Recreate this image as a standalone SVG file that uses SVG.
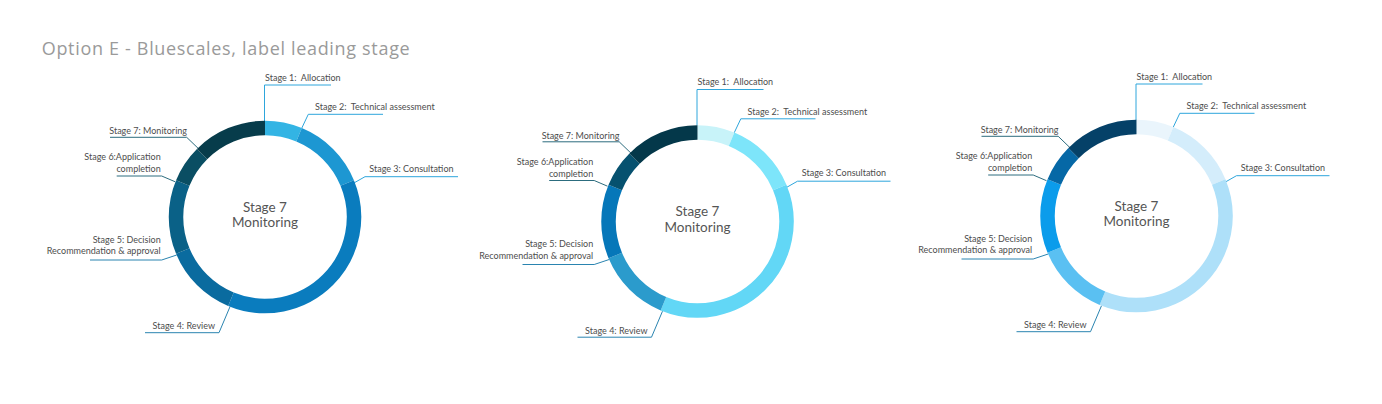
<svg xmlns="http://www.w3.org/2000/svg" width="1382" height="404" viewBox="0 0 1382 404">
<style>
.bg{fill:#ffffff}
.title{font-family:"Open Sans","Liberation Sans",sans-serif;font-size:18px;fill:#9a9a9a}
.lbl{font-family:Lato,"Liberation Sans",sans-serif;font-size:9px;fill:#4d4d4d;white-space:pre}
.end{text-anchor:end}
.ctr{font-family:Lato,"Liberation Sans",sans-serif;font-size:13.5px;fill:#555555;text-anchor:middle}
.seg{fill:none;stroke-width:14.5;stroke-linecap:butt}
.ld{fill:none;stroke-width:1}
.lb{stroke:#2ea6dc}
.lm{stroke:#2a84b0}
.lt{stroke:#2c6c7e}
.r1 .s1{stroke:#33b4e4}.r1 .s2{stroke:#1d97d2}.r1 .s3{stroke:#0a7cbe}.r1 .s4{stroke:#0a6b9f}.r1 .s5{stroke:#0a6187}.r1 .s6{stroke:#0a4e63}.r1 .s7{stroke:#073c4b}
.r2 .s1{stroke:#c8f3f9}.r2 .s2{stroke:#7de5fa}.r2 .s3{stroke:#62d7f6}.r2 .s4{stroke:#2b9bcc}.r2 .s5{stroke:#0677b9}.r2 .s6{stroke:#06516f}.r2 .s7{stroke:#04384a}
.r3 .s1{stroke:#eaf5fc}.r3 .s2{stroke:#d4edfb}.r3 .s3{stroke:#aee0f9}.r3 .s4{stroke:#5ac0f2}.r3 .s5{stroke:#0b9ceb}.r3 .s6{stroke:#0668a6}.r3 .s7{stroke:#054168}
</style>
<rect class="bg" x="0" y="0" width="1382" height="404"/>
<text id="title" class="title" x="41.7" y="55" textLength="368">Option E - Bluescales, label leading stage</text>

<g id="diagram1" class="r1">
  <g id="d1-connectors">
    <path class="ld lb" d="M264.5,121 V85 H331"/>
    <path class="ld lb" d="M301.7,128.3 L308.3,114.3 H383"/>
    <path class="ld lb" d="M353,183.5 L365,176.7 H458"/>
    <path class="ld lm" d="M230,306.7 L219,332.7 H145"/>
    <path class="ld lm" d="M176.7,255 L161.7,260 H90"/>
    <path class="ld lt" d="M175,181.7 L161.7,176 H116.7"/>
    <path class="ld lt" d="M203,153 L186.7,137.3 H110"/>
  </g>
  <g id="d1-stage1"><path class="seg s1" d="M265,128 A89,89 0 0 1 299.059,134.775"/><text class="lbl" x="265" y="80.5">Stage 1:  Allocation</text></g>
  <g id="d1-stage2"><path class="seg s2" d="M299.059,134.775 A89,89 0 0 1 347.225,182.941"/><text class="lbl" x="315" y="110">Stage 2:  Technical assessment</text></g>
  <g id="d1-stage3"><path class="seg s3" d="M347.225,182.941 A89,89 0 0 1 230.941,299.225"/><text class="lbl" x="369.3" y="171.6">Stage 3: Consultation</text></g>
  <g id="d1-stage4"><path class="seg s4" d="M230.941,299.225 A89,89 0 0 1 182.775,251.059"/><text class="lbl end" x="215" y="329.3">Stage 4: Review</text></g>
  <g id="d1-stage5"><path class="seg s5" d="M182.775,251.059 A89,89 0 0 1 182.775,182.941"/><text class="lbl end" x="160.7" y="242.7">Stage 5: Decision</text><text class="lbl end" x="160.7" y="254.2">Recommendation &amp; approval</text></g>
  <g id="d1-stage6"><path class="seg s6" d="M182.775,182.941 A89,89 0 0 1 202.067,154.067"/><text class="lbl end" x="160.7" y="160.2">Stage 6:Application</text><text class="lbl end" x="160.7" y="172.2">completion</text></g>
  <g id="d1-stage7"><path class="seg s7" d="M202.067,154.067 A89,89 0 0 1 265,128"/><text class="lbl end" x="187" y="134">Stage 7: Monitoring</text></g>
  <g id="d1-center"><text class="ctr" x="265" y="211.6">Stage 7</text><text class="ctr" x="265" y="227.3">Monitoring</text></g>
</g>

<g id="diagram2" class="r2" transform="translate(432.5,4.5)">
  <g id="d2-connectors">
    <path class="ld lb" d="M264.5,121 V85 H331"/>
    <path class="ld lb" d="M301.7,128.3 L308.3,114.3 H383"/>
    <path class="ld lb" d="M353,183.5 L365,176.7 H458"/>
    <path class="ld lm" d="M230,306.7 L219,332.7 H145"/>
    <path class="ld lm" d="M176.7,255 L161.7,260 H90"/>
    <path class="ld lt" d="M175,181.7 L161.7,176 H116.7"/>
    <path class="ld lt" d="M203,153 L186.7,137.3 H110"/>
  </g>
  <g id="d2-stage1"><path class="seg s1" d="M265,128 A89,89 0 0 1 299.059,134.775"/><text class="lbl" x="265" y="80.5">Stage 1:  Allocation</text></g>
  <g id="d2-stage2"><path class="seg s2" d="M299.059,134.775 A89,89 0 0 1 347.225,182.941"/><text class="lbl" x="315" y="110">Stage 2:  Technical assessment</text></g>
  <g id="d2-stage3"><path class="seg s3" d="M347.225,182.941 A89,89 0 0 1 230.941,299.225"/><text class="lbl" x="369.3" y="171.6">Stage 3: Consultation</text></g>
  <g id="d2-stage4"><path class="seg s4" d="M230.941,299.225 A89,89 0 0 1 182.775,251.059"/><text class="lbl end" x="215" y="329.3">Stage 4: Review</text></g>
  <g id="d2-stage5"><path class="seg s5" d="M182.775,251.059 A89,89 0 0 1 182.775,182.941"/><text class="lbl end" x="160.7" y="242.7">Stage 5: Decision</text><text class="lbl end" x="160.7" y="254.2">Recommendation &amp; approval</text></g>
  <g id="d2-stage6"><path class="seg s6" d="M182.775,182.941 A89,89 0 0 1 202.067,154.067"/><text class="lbl end" x="160.7" y="160.2">Stage 6:Application</text><text class="lbl end" x="160.7" y="172.2">completion</text></g>
  <g id="d2-stage7"><path class="seg s7" d="M202.067,154.067 A89,89 0 0 1 265,128"/><text class="lbl end" x="187" y="134">Stage 7: Monitoring</text></g>
  <g id="d2-center"><text class="ctr" x="265" y="211.6">Stage 7</text><text class="ctr" x="265" y="227.3">Monitoring</text></g>
</g>

<g id="diagram3" class="r3" transform="translate(871.5,-1)">
  <g id="d3-connectors">
    <path class="ld lb" d="M264.5,121 V85 H331"/>
    <path class="ld lb" d="M301.7,128.3 L308.3,114.3 H383"/>
    <path class="ld lb" d="M353,183.5 L365,176.7 H458"/>
    <path class="ld lm" d="M230,306.7 L219,332.7 H145"/>
    <path class="ld lm" d="M176.7,255 L161.7,260 H90"/>
    <path class="ld lt" d="M175,181.7 L161.7,176 H116.7"/>
    <path class="ld lt" d="M203,153 L186.7,137.3 H110"/>
  </g>
  <g id="d3-stage1"><path class="seg s1" d="M265,128 A89,89 0 0 1 299.059,134.775"/><text class="lbl" x="265" y="80.5">Stage 1:  Allocation</text></g>
  <g id="d3-stage2"><path class="seg s2" d="M299.059,134.775 A89,89 0 0 1 347.225,182.941"/><text class="lbl" x="315" y="110">Stage 2:  Technical assessment</text></g>
  <g id="d3-stage3"><path class="seg s3" d="M347.225,182.941 A89,89 0 0 1 230.941,299.225"/><text class="lbl" x="369.3" y="171.6">Stage 3: Consultation</text></g>
  <g id="d3-stage4"><path class="seg s4" d="M230.941,299.225 A89,89 0 0 1 182.775,251.059"/><text class="lbl end" x="215" y="329.3">Stage 4: Review</text></g>
  <g id="d3-stage5"><path class="seg s5" d="M182.775,251.059 A89,89 0 0 1 182.775,182.941"/><text class="lbl end" x="160.7" y="242.7">Stage 5: Decision</text><text class="lbl end" x="160.7" y="254.2">Recommendation &amp; approval</text></g>
  <g id="d3-stage6"><path class="seg s6" d="M182.775,182.941 A89,89 0 0 1 202.067,154.067"/><text class="lbl end" x="160.7" y="160.2">Stage 6:Application</text><text class="lbl end" x="160.7" y="172.2">completion</text></g>
  <g id="d3-stage7"><path class="seg s7" d="M202.067,154.067 A89,89 0 0 1 265,128"/><text class="lbl end" x="187" y="134">Stage 7: Monitoring</text></g>
  <g id="d3-center"><text class="ctr" x="265" y="211.6">Stage 7</text><text class="ctr" x="265" y="227.3">Monitoring</text></g>
</g>
</svg>
